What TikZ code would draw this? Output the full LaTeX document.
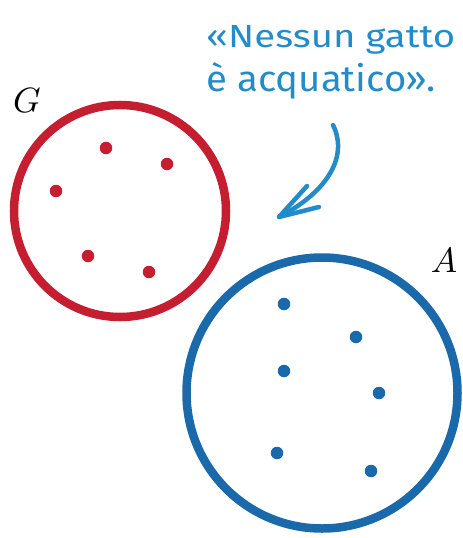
\documentclass[tikz,border=0pt]{standalone}
\usepackage{fontspec}
\newfontfamily\handfont{Fira Sans}
\definecolor{setred}{HTML}{C41E30}
\definecolor{setblue}{HTML}{1A69AA}
\definecolor{noteblue}{HTML}{238CC8}
\begin{document}
\begin{tikzpicture}[x=1pt,y=-1pt,
  setline/.style={line width=8.5pt},
  elem/.style={circle,inner sep=0pt,minimum size=12.5pt},
  setlabel/.style={inner sep=0pt},
  notetext/.style={inner sep=0pt,anchor=base west,text=noteblue},
  notearrow/.style={line width=4.5pt,line cap=round,line join=round,draw=noteblue}]
\useasboundingbox (0,0) rectangle (463,538);
% sets
\draw[setline,draw=setred] (120,211) circle[radius=106];
\draw[setline,draw=setblue] (322,393) circle[radius=135.5];
% elements of G
\foreach \n/\p in {g1/{(106,148)},g2/{(167,164)},g3/{(56,191)},g4/{(88,256)},g5/{(149,272)}}
  \node[elem,fill=setred] (\n) at \p {};
% elements of A
\foreach \n/\p in {a1/{(284,304)},a2/{(356,337)},a3/{(284,371)},a4/{(379,393)},a5/{(277,453)},a6/{(371,471)}}
  \node[elem,fill=setblue] (\n) at \p {};
% labels
\node[setlabel] (G) at (27,100) {\resizebox{!}{24pt}{$G$}};
\node[setlabel] (A) at (444,260) {\resizebox{!}{24pt}{$A$}};
% note
\node[notetext] (l1) at (206,47) {\resizebox{249pt}{22pt}{\handfont «Nessun gatto}};
\node[notetext] (l2) at (206,91) {\resizebox{229pt}{29pt}{\handfont è acquatico».}};
% arrow
\coordinate (s) at (333,125);
\coordinate (t) at (279,217);
\coordinate (b1) at (307,186);
\coordinate (b2) at (319,207);
\draw[notearrow] (s) .. controls (350,160) and (322,195) .. (t);
\draw[notearrow] (b1) -- (t) -- (b2);
\end{tikzpicture}
\end{document}
